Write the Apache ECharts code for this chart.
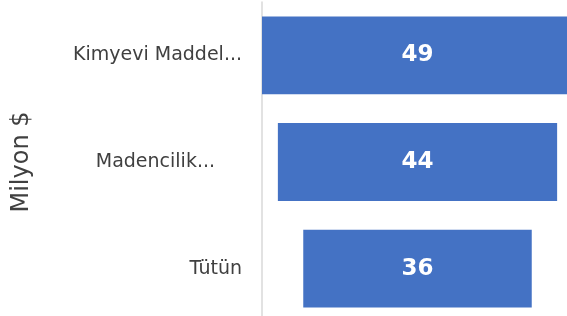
<!DOCTYPE html>
<html>
<head>
<meta charset="utf-8">
<script src="https://cdn.jsdelivr.net/npm/echarts@6/dist/echarts.min.js"></script>
<style>
  html, body { margin: 0; padding: 0; background: #fff; }
  #chart { width: 567px; height: 316px; }
</style>
</head>
<body>
<div id="chart"></div>
<script>
const categories = ['Kimyevi Maddel...', 'Madencilik...', 'Tütün']
const values = [49, 44, 36]
const axisTitle = 'Milyon $'

// bars are centred: a transparent spacer pushes each one in by half the gap to the widest
const maxValue = Math.max(...values)
const spacer = values.map((v) => (maxValue - v) / 2)

const chart = echarts.init(document.getElementById('chart'))

const option = {
  animation: false,
  textStyle: { fontFamily: 'DejaVu Sans' },
  grid: {
    left: 262,
    top: 2,
    width: 311,
    height: 320,
    outerBoundsMode: 'none',
    containLabel: false,
  },
  xAxis: {
    type: 'value',
    min: 0,
    max: maxValue,
    show: false,
  },
  yAxis: {
    type: 'category',
    inverse: true,
    data: categories,
    name: axisTitle,
    nameLocation: 'middle',
    nameRotate: 90,
    nameGap: 228,
    nameTextStyle: { fontSize: 24, color: '#404040', fontFamily: 'DejaVu Sans' },
    axisLine: { show: true, lineStyle: { color: '#d9d9d9', width: 1.5 } },
    axisTick: { show: false },
    axisLabel: {
      margin: 20,
      fontSize: 19,
      color: '#404040',
      formatter: (val, idx) => (idx === 1 ? '{pad|' + val + '}' : val),
      rich: {
        pad: { fontSize: 19, color: '#404040', padding: [0, 27, 0, 0] },
      },
    },
    splitLine: { show: false },
  },
  series: [
    {
      type: 'bar',
      stack: 'funnel',
      data: spacer,
      itemStyle: { color: 'transparent' },
      silent: true,
      barCategoryGap: '27%',
    },
    {
      type: 'bar',
      stack: 'funnel',
      data: values,
      itemStyle: { color: '#4472c4' },
      barCategoryGap: '27%',
      label: {
        show: true,
        position: 'inside',
        color: '#fff',
        fontSize: 23,
        fontWeight: 'bold',
        fontFamily: 'DejaVu Sans',
      },
    },
  ],
}

chart.setOption(option)
</script>
</body>
</html>
